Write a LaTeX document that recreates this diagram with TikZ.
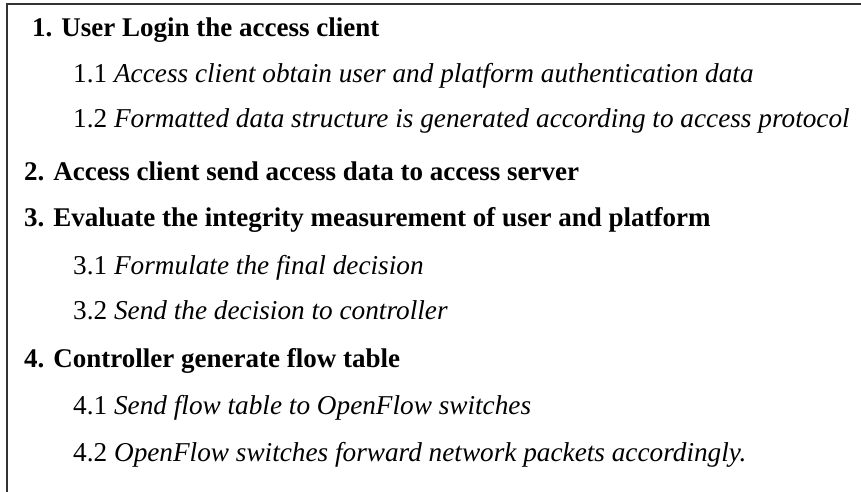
\documentclass[tikz,border=0pt]{standalone}
\usepackage{fontspec}
\setmainfont{Liberation Serif}
\begin{document}
\begin{tikzpicture}[x=1pt,y=1pt,
  mainitem/.style={anchor=base west, inner sep=0pt, font=\fontsize{27}{30}\selectfont\bfseries},
  subitem/.style={anchor=base west, inner sep=0pt, font=\fontsize{27.25}{30}\selectfont},
  frameline/.style={line width=1.8pt, draw=black!80}]
\useasboundingbox (0,0) rectangle (861,492);
\coordinate (fb) at (7,0);
\coordinate (fc) at (7,488);
\coordinate (fr) at (861,488);
\draw[frameline] (fb) -- (fc) -- (fr);
\node[mainitem] (s1) at (32,455) {1. User Login the access client};
\node[subitem] (s11) at (73,409) {1.1 \textit{Access client obtain user and platform authentication data}};
\node[subitem] (s12) at (73,364) {1.2 \textit{Formatted data structure is generated according to access protocol}};
\node[mainitem] (s2) at (24,311) {2. Access client send access data to access server};
\node[mainitem] (s3) at (24,265) {3. Evaluate the integrity measurement of user and platform};
\node[subitem] (s31) at (73,217) {3.1 \textit{Formulate the final decision}};
\node[subitem] (s32) at (73,172) {3.2 \textit{Send the decision to controller}};
\node[mainitem] (s4) at (24,124) {4. Controller generate flow table};
\node[subitem] (s41) at (73,77) {4.1 \textit{Send flow table to OpenFlow switches}};
\node[subitem] (s42) at (73,30) {4.2 \textit{OpenFlow switches forward network packets accordingly.}};
\end{tikzpicture}
\end{document}
